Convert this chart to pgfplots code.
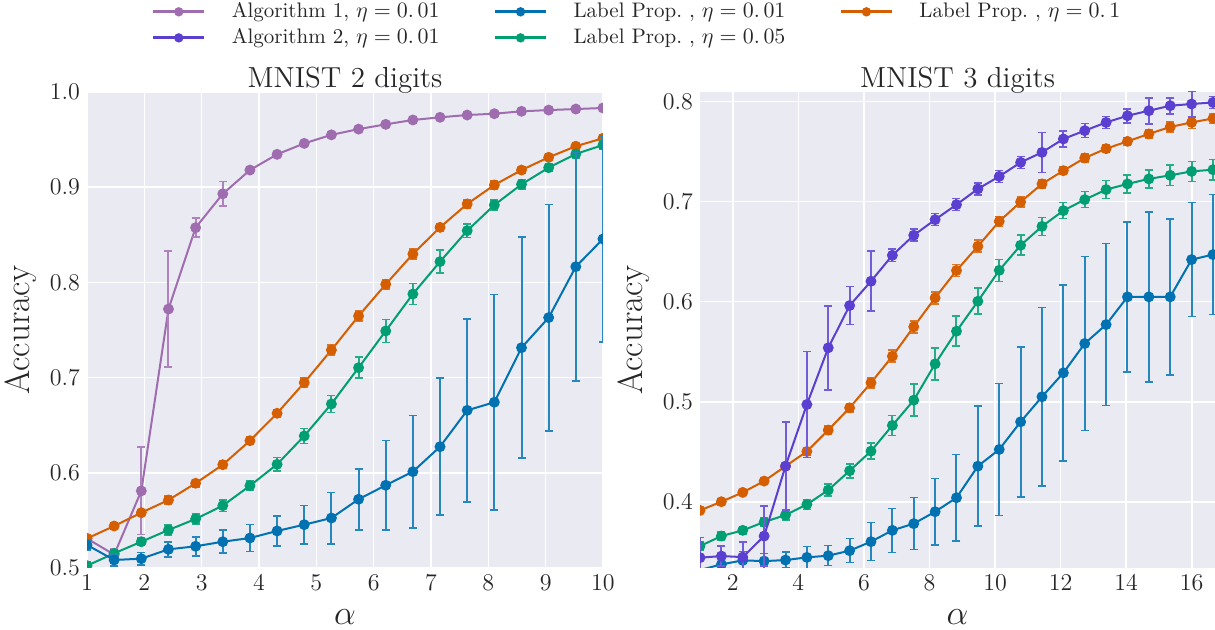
\documentclass[border=0pt]{standalone}
\usepackage{pgfplots}
\pgfplotsset{compat=1.18}
\usepackage{pgfplotstable}

\definecolor{bgc}{HTML}{EAEAF2}
\definecolor{alga}{HTML}{A06CB0}
\definecolor{algb}{HTML}{5A3FD0}
\definecolor{lpa}{HTML}{0072B2}
\definecolor{lpb}{HTML}{009E73}
\definecolor{lpc}{HTML}{D55E00}
\definecolor{tickc}{HTML}{262626}

% ---------------- data: MNIST 2 digits ----------------
\pgfplotstableread{
x y e
1 0.531 0.004
1.4737 0.514 0.006
1.9474 0.581 0.046
2.4211 0.772 0.061
2.8947 0.8575 0.010
3.3684 0.893 0.013
3.8421 0.918 0.003
4.3158 0.9345 0.002
4.7895 0.946 0.002
5.2632 0.955 0.002
5.7368 0.961 0.002
6.2105 0.966 0.002
6.6842 0.9706 0.002
7.1579 0.9734 0.002
7.6316 0.9758 0.002
8.1053 0.9772 0.002
8.5789 0.9797 0.002
9.0526 0.981 0.002
9.5263 0.9821 0.002
10 0.9832 0.002
}\algAleft
\pgfplotstableread{
x y e
1 0.5242 0.005
1.4737 0.5084 0.006
1.9474 0.5098 0.0065
2.4211 0.5196 0.008
2.8947 0.5228 0.010
3.3684 0.5276 0.012
3.8421 0.5315 0.014
4.3158 0.5389 0.016
4.7895 0.5455 0.020
5.2632 0.5525 0.027
5.7368 0.5722 0.032
6.2105 0.5869 0.047
6.6842 0.6012 0.059
7.1579 0.6274 0.072
7.6316 0.6656 0.096
8.1053 0.6741 0.113
8.5789 0.7314 0.116
9.0526 0.763 0.119
9.5263 0.8165 0.120
10 0.8456 0.108
}\lpAleft
\pgfplotstableread{
x y e
1 0.5024 0.004
1.4737 0.5154 0.004
1.9474 0.5276 0.004
2.4211 0.5399 0.005
2.8947 0.5515 0.005
3.3684 0.5655 0.006
3.8421 0.5864 0.005
4.3158 0.6089 0.007
4.7895 0.6387 0.008
5.2632 0.6723 0.009
5.7368 0.7104 0.011
6.2105 0.749 0.012
6.6842 0.7878 0.011
7.1579 0.8218 0.012
7.6316 0.8543 0.007
8.1053 0.8813 0.005
8.5789 0.903 0.005
9.0526 0.9205 0.004
9.5263 0.9349 0.004
10 0.9443 0.004
}\lpBleft
\pgfplotstableread{
x y e
1 0.531 0.004
1.4737 0.5441 0.003
1.9474 0.5581 0.003
2.4211 0.5714 0.004
2.8947 0.589 0.004
3.3684 0.6085 0.004
3.8421 0.6337 0.004
4.3158 0.6625 0.004
4.7895 0.6947 0.005
5.2632 0.729 0.005
5.7368 0.7647 0.005
6.2105 0.798 0.005
6.6842 0.8298 0.005
7.1579 0.8578 0.004
7.6316 0.8824 0.004
8.1053 0.9023 0.004
8.5789 0.918 0.003
9.0526 0.9314 0.003
9.5263 0.943 0.003
10 0.9514 0.003
}\lpCleft

% ---------------- data: MNIST 3 digits ----------------
\pgfplotstableread{
x y e
1 0.3443 0.020
1.652 0.3459 0.010
2.304 0.3449 0.015
2.956 0.3659 0.030
3.608 0.4357 0.044
4.26 0.4973 0.053
4.912 0.5539 0.042
5.564 0.5961 0.019
6.216 0.6204 0.030
6.868 0.6463 0.006
7.52 0.6663 0.006
8.172 0.6819 0.006
8.824 0.6969 0.006
9.476 0.7126 0.006
10.128 0.7251 0.006
10.78 0.7391 0.006
11.432 0.7491 0.020
12.084 0.7625 0.008
12.736 0.7708 0.007
13.388 0.779 0.006
14.04 0.7857 0.007
14.692 0.7907 0.013
15.344 0.7957 0.008
15.996 0.7974 0.013
16.648 0.799 0.006
}\algBright
\pgfplotstableread{
x y e
1 0.332 0.010
1.652 0.3376 0.010
2.304 0.3416 0.009
2.956 0.3409 0.0075
3.608 0.3419 0.008
4.26 0.3446 0.011
4.912 0.3463 0.010
5.564 0.3513 0.012
6.216 0.3603 0.019
6.868 0.3716 0.022
7.52 0.3783 0.026
8.172 0.3902 0.033
8.824 0.4042 0.043
9.476 0.4357 0.060
10.128 0.4524 0.066
10.78 0.48 0.075
11.432 0.505 0.089
12.084 0.5289 0.088
12.736 0.5582 0.087
13.388 0.5771 0.081
14.04 0.6048 0.075
14.692 0.6048 0.085
15.344 0.6048 0.078
15.996 0.642 0.057
16.648 0.647 0.060
}\lpAright
\pgfplotstableread{
x y e
1 0.3559 0.004
1.652 0.3659 0.004
2.304 0.3716 0.004
2.956 0.3799 0.004
3.608 0.3869 0.005
4.26 0.3975 0.005
4.912 0.4118 0.006
5.564 0.4311 0.007
6.216 0.4507 0.008
6.868 0.4764 0.010
7.52 0.5016 0.016
8.172 0.5379 0.016
8.824 0.5705 0.015
9.476 0.6004 0.013
10.128 0.6313 0.011
10.78 0.6563 0.010
11.432 0.6752 0.009
12.084 0.6909 0.008
12.736 0.7019 0.008
13.388 0.7119 0.009
14.04 0.7176 0.009
14.692 0.7226 0.009
15.344 0.7262 0.010
15.996 0.7301 0.010
16.648 0.7318 0.010
}\lpBright
\pgfplotstableread{
x y e
1 0.3915 0.003
1.652 0.4002 0.003
2.304 0.4095 0.003
2.956 0.4208 0.003
3.608 0.4357 0.003
4.26 0.4504 0.004
4.912 0.4717 0.004
5.564 0.494 0.004
6.216 0.519 0.005
6.868 0.5455 0.006
7.52 0.5749 0.006
8.172 0.6038 0.006
8.824 0.6311 0.006
9.476 0.6553 0.006
10.128 0.6802 0.005
10.78 0.6996 0.005
11.432 0.7176 0.004
12.084 0.7308 0.004
12.736 0.7435 0.004
13.388 0.7528 0.004
14.04 0.7601 0.004
14.692 0.7675 0.004
15.344 0.7745 0.005
15.996 0.779 0.006
16.648 0.783 0.005
}\lpCright

\pgfplotsset{
  sns/.style={
    scale only axis,
    axis background/.style={fill=bgc},
    axis line style={draw=none},
    grid=major,
    major grid style={white, line width=0.8pt},
    tick style={draw=none},
    tick label style={font=\fontsize{12}{14}\selectfont, text=tickc},
    yticklabel style={/pgf/number format/.cd, fixed, fixed zerofill, precision=1},
    title style={font=\fontsize{14.5}{16}\selectfont, text=tickc, yshift=-10.5pt},
    label style={font=\fontsize{17.5}{20}\selectfont, text=tickc},
    xlabel style={yshift=-2.5pt},
    clip marker paths=true,
    every axis plot/.append style={line width=1pt},
  },
  ser/.style={color=#1, mark=*, mark size=2.2pt, mark options={solid, fill=#1, draw=#1},
    error bars/y dir=both, error bars/y explicit,
    error bars/error bar style={line width=1pt, color=#1!85!white},
    error bars/error mark options={rotate=90, mark size=2pt, line width=0.8pt, color=#1!85!white}},
}

\newcommand{\serplot}[2]{\addplot+[forget plot, ser=#1] table[x=x, y=y, y error=e] {#2};}

\begin{document}
\begin{tikzpicture}
\useasboundingbox (0,0) rectangle (607.5pt,315pt);
% ---------- left ----------
\begin{axis}[sns,
  at={(43.5pt,31pt)}, anchor=south west,
  width=258pt, height=238pt,
  xmin=1, xmax=10, ymin=0.5, ymax=1.0,
  xtick={1,2,...,10},
  ytick={0.5,0.6,...,1.0},
  title={MNIST 2 digits},
  xlabel={$\alpha$}, ylabel={Accuracy},
  legend columns=3,
  legend style={draw=none, fill=none, at={(1.068,1.205)}, anchor=north,
    font=\fontsize{10.5}{12}\selectfont, text=tickc,
    /tikz/every odd column/.append style={column sep=11pt},
    /tikz/every even column/.append style={column sep=25pt},
    row sep=0pt},
  legend cell align=left,
  legend image code/.code={\draw[mark repeat=2, mark phase=2, line width=1.4pt, mark size=1.6pt]
    plot coordinates {(0cm,0cm) (0.45cm,0cm) (0.9cm,0cm)};},
]
\serplot{alga}{\algAleft}
\serplot{lpc}{\lpCleft}
\serplot{lpb}{\lpBleft}
\serplot{lpa}{\lpAleft}
\addlegendimage{color=alga, mark=*, mark options={fill=alga, draw=alga}}
\addlegendentry{Algorithm 1, $\eta=0.\,01$}
\addlegendimage{color=lpa, mark=*, mark options={fill=lpa, draw=lpa}}
\addlegendentry{Label Prop.\ , $\eta=0.\,01$}
\addlegendimage{color=lpc, mark=*, mark options={fill=lpc, draw=lpc}}
\addlegendentry{Label Prop.\ , $\eta=0.\,1$}
\addlegendimage{color=algb, mark=*, mark options={fill=algb, draw=algb}}
\addlegendentry{Algorithm 2, $\eta=0.\,01$}
\addlegendimage{color=lpb, mark=*, mark options={fill=lpb, draw=lpb}}
\addlegendentry{Label Prop.\ , $\eta=0.\,05$}
\end{axis}
% ---------- right ----------
\begin{axis}[sns,
  at={(350pt,31pt)}, anchor=south west,
  width=257.5pt, height=238pt,
  xmin=1, xmax=16.71, ymin=0.334, ymax=0.8094,
  xtick={2,4,...,16},
  ytick={0.4,0.5,...,0.8},
  title={MNIST 3 digits},
  xlabel={$\alpha$}, ylabel={Accuracy},
]
\serplot{lpc}{\lpCright}
\serplot{lpb}{\lpBright}
\serplot{lpa}{\lpAright}
\serplot{algb}{\algBright}
\end{axis}
\end{tikzpicture}
\end{document}
